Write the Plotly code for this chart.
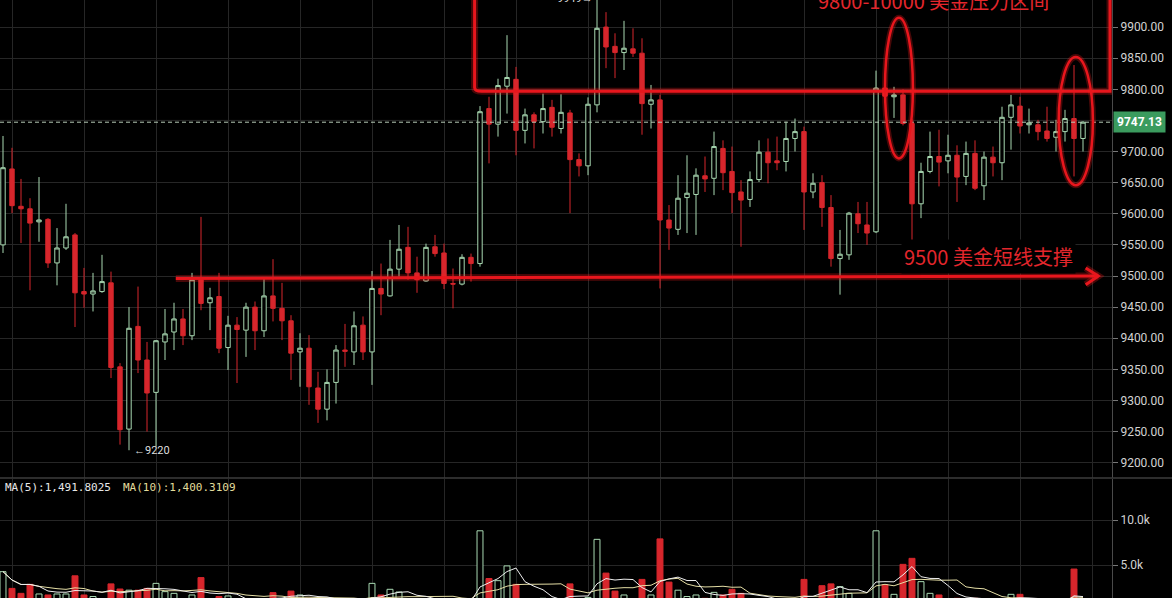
import plotly.graph_objects as go
import pandas as pd

# ---------------- data ----------------
opens = [9550, 9672, 9612, 9608, 9587, 9591, 9521, 9545, 9566, 9475,
         9471, 9475, 9489, 9354, 9254, 9419, 9365, 9313, 9394, 9410,
         9431, 9404, 9494, 9457, 9467, 9385, 9421, 9413, 9450, 9412,
         9468, 9448, 9428, 9378, 9384, 9320, 9286, 9329, 9381, 9378,
         9421, 9378, 9480, 9468, 9511, 9546, 9505, 9492, 9547, 9537,
         9488, 9487, 9530, 9520, 9769, 9744, 9805, 9816, 9734, 9759,
         9748, 9771, 9737, 9762, 9687, 9677, 9775, 9900, 9869, 9859,
         9865, 9858, 9776, 9783, 9590, 9575, 9626, 9631, 9661, 9657,
         9705, 9668, 9635, 9623, 9655, 9699, 9685, 9684, 9721, 9732,
         9635, 9650, 9610, 9528, 9534, 9600, 9582, 9571, 9802, 9788,
         9791, 9745, 9616, 9668, 9692, 9685, 9694, 9660, 9697, 9645,
         9691, 9682, 9755, 9773, 9743, 9743, 9733, 9723, 9732, 9753,
         9721]
highs = [9725, 9706, 9656, 9625, 9659, 9593, 9577, 9616, 9569, 9513,
         9505, 9534, 9507, 9360, 9450, 9483, 9394, 9397, 9447, 9457,
         9447, 9505, 9595, 9481, 9505, 9436, 9434, 9457, 9459, 9497,
         9527, 9489, 9437, 9408, 9405, 9346, 9350, 9389, 9423, 9443,
         9435, 9508, 9520, 9558, 9582, 9579, 9531, 9552, 9566, 9552,
         9512, 9535, 9536, 9773, 9788, 9817, 9887, 9836, 9769, 9763,
         9793, 9783, 9792, 9767, 9697, 9787, 9949, 9924, 9890, 9910,
         9898, 9882, 9807, 9791, 9614, 9662, 9694, 9673, 9692, 9732,
         9718, 9708, 9654, 9668, 9718, 9721, 9724, 9748, 9753, 9740,
         9665, 9662, 9630, 9574, 9603, 9619, 9619, 9830, 9812, 9804,
         9800, 9752, 9682, 9732, 9735, 9727, 9710, 9716, 9718, 9700,
         9708, 9772, 9791, 9788, 9769, 9751, 9772, 9751, 9767, 9839,
         9749]
lows = [9537, 9601, 9553, 9477, 9555, 9513, 9485, 9542, 9418, 9449,
        9443, 9473, 9336, 9229, 9220, 9344, 9250, 9226, 9365, 9381,
        9389, 9397, 9445, 9413, 9376, 9349, 9328, 9370, 9381, 9402,
        9427, 9397, 9333, 9322, 9293, 9264, 9268, 9295, 9354, 9357,
        9365, 9325, 9437, 9467, 9499, 9494, 9473, 9491, 9531, 9479,
        9448, 9485, 9491, 9515, 9681, 9724, 9761, 9694, 9713, 9705,
        9729, 9724, 9729, 9601, 9660, 9662, 9763, 9834, 9818, 9831,
        9852, 9727, 9737, 9480, 9542, 9566, 9569, 9566, 9635, 9630,
        9638, 9601, 9547, 9611, 9651, 9649, 9670, 9668, 9700, 9574,
        9625, 9579, 9515, 9470, 9526, 9569, 9550, 9569, 9782, 9754,
        9742, 9553, 9593, 9665, 9644, 9665, 9619, 9646, 9638, 9622,
        9660, 9654, 9703, 9729, 9729, 9718, 9716, 9700, 9716, 9660,
        9700]
closes = [9674, 9613, 9608, 9585, 9590, 9521, 9545, 9563, 9473, 9471,
          9476, 9491, 9353, 9253, 9416, 9365, 9312, 9396, 9407, 9431,
          9404, 9494, 9456, 9465, 9384, 9421, 9414, 9450, 9412, 9468,
          9448, 9428, 9376, 9384, 9322, 9286, 9329, 9381, 9379, 9420,
          9378, 9480, 9471, 9511, 9543, 9505, 9494, 9546, 9536, 9488,
          9487, 9530, 9520, 9764, 9744, 9806, 9819, 9734, 9759, 9748,
          9769, 9739, 9763, 9687, 9677, 9776, 9898, 9868, 9859, 9866,
          9858, 9777, 9783, 9590, 9577, 9625, 9633, 9662, 9656, 9708,
          9666, 9634, 9622, 9655, 9699, 9682, 9682, 9721, 9732, 9635,
          9649, 9610, 9528, 9535, 9601, 9584, 9569, 9802, 9789, 9791,
          9745, 9616, 9668, 9692, 9683, 9694, 9659, 9697, 9641, 9691,
          9682, 9755, 9775, 9741, 9746, 9732, 9721, 9732, 9753, 9721,
          9747.13]
volumes = [4260, 2400, 1850, 2850, 1780, 1670, 1780, 1780, 3800, 1670,
           1500, 1100, 2900, 2330, 2200, 2200, 2400, 2960, 2040, 1850,
           1200, 1670, 3600, 1100, 1500, 1560, 1000, 1100, 1200, 1200,
           1930, 1200, 2100, 1670, 1300, 1200, 1000, 1000, 800, 1000,
           900, 2960, 1670, 2300, 2000, 1200, 1000, 1100, 900, 1200,
           900, 1000, 900, 8800, 3500, 3260, 4900, 2850, 1200, 1000,
           1300, 1100, 1200, 2900, 1200, 1400, 7850, 4100, 2100, 1670,
           1200, 3400, 1670, 7900, 3100, 2200, 1500, 1670, 1300, 1960,
           1670, 2300, 1850, 1100, 1200, 1000, 900, 1100, 1000, 3400,
           1200, 2700, 2900, 2600, 1850, 1200, 1100, 8800, 2800, 1740,
           5070, 5740, 3150, 1850, 1670, 1200, 1300, 1200, 1300, 1100,
           1000, 1200, 1740, 1740, 1000, 900, 700, 800, 900, 4550,
           500]

# tick labels on the price axis (9750.00 is hidden under the last-price tag)
price_ticks = [9200, 9250, 9300, 9350, 9400, 9450, 9500, 9550,
               9600, 9650, 9700, 9800, 9850, 9900]
hidden_grid_price = 9750
vol_ticks = [5000, 10000]
vol_tick_labels = ["5.0k", "10.0k"]
last_price = 9747.13
low_label = "←9220"
high_label = "9949→"
ma5_label = "MA(5):1,491.8025"
ma10_label = "MA(10):1,400.3109"
resist_text = "9800-10000 美金压力区间"
support_text = "9500 美金短线支撑"

# ---------------- derived ----------------
idx = list(range(len(closes)))
ups = [c >= o for o, c in zip(opens, closes)]
vol_s = pd.Series(volumes, dtype=float)
ma5 = vol_s.rolling(5, min_periods=1).mean().tolist()
ma10 = vol_s.rolling(10, min_periods=1).mean().tolist()

RED = "#d7262c"
GREEN = "#a9d9b2"
BG = "#000000"
GRID = "#262626"
W, H = 1172, 598
PLOT_R = 1112 / W
PRICE_BOTTOM = (H - 478) / H
VOL_TOP = (H - 479) / H

fig = go.Figure()

fig.add_trace(go.Candlestick(
    x=idx, open=opens, high=highs, low=lows, close=closes,
    increasing=dict(line=dict(color=GREEN, width=1), fillcolor=BG),
    decreasing=dict(line=dict(color=RED, width=1), fillcolor=RED),
    whiskerwidth=0, xaxis="x", yaxis="y", showlegend=False,
    hoverinfo="skip"))

fig.add_trace(go.Bar(
    x=idx, y=volumes, width=0.66,
    marker=dict(color=[BG if u else RED for u in ups],
                line=dict(color=[GREEN if u else RED for u in ups], width=1)),
    xaxis="x2", yaxis="y2", showlegend=False, hoverinfo="skip"))

fig.add_trace(go.Scatter(x=idx, y=ma10, mode="lines",
                         line=dict(color="#e6dfa6", width=1),
                         xaxis="x2", yaxis="y2", showlegend=False, hoverinfo="skip"))
fig.add_trace(go.Scatter(x=idx, y=ma5, mode="lines",
                         line=dict(color="#eeeeee", width=1),
                         xaxis="x2", yaxis="y2", showlegend=False, hoverinfo="skip"))

grid_x = [1 + 8 * k for k in range(16)]
xr = [-0.333, -0.333 + 1112 / 9]

axis_font = dict(family="Roboto, DejaVu Sans, sans-serif", size=12, color="#d2d2d2")

fig.update_layout(
    width=W, height=H,
    margin=dict(l=0, r=0, t=0, b=0),
    paper_bgcolor=BG, plot_bgcolor=BG,
    showlegend=False,
    xaxis=dict(domain=[0, PLOT_R], range=xr, anchor="y",
               tickvals=grid_x, showticklabels=False, ticks="",
               showgrid=True, gridcolor=GRID, gridwidth=1, zeroline=False,
               rangeslider=dict(visible=False), fixedrange=True),
    xaxis2=dict(domain=[0, PLOT_R], range=xr, anchor="y2", matches="x",
                tickvals=grid_x, showticklabels=False, ticks="",
                showgrid=True, gridcolor=GRID, gridwidth=1, zeroline=False),
    yaxis=dict(domain=[PRICE_BOTTOM, 1], range=[9175.4, 9943.5], side="right",
               anchor="x", tickvals=price_ticks, tickformat=".2f",
               ticks="outside", ticklen=5, tickcolor="#777777",
               showline=True, linecolor="#4a4a4a", linewidth=1,
               showgrid=True, gridcolor=GRID, zeroline=False,
               tickfont=axis_font),
    yaxis2=dict(domain=[0, VOL_TOP], range=[1333, 14555], side="right",
                anchor="x2", tickvals=vol_ticks, ticktext=vol_tick_labels,
                ticks="outside", ticklen=5, tickcolor="#777777",
                showline=True, linecolor="#4a4a4a", linewidth=1,
                showgrid=True, gridcolor=GRID, zeroline=False,
                tickfont=axis_font),
)

shapes = []
# grid line under the last-price tag
shapes.append(dict(type="line", xref="paper", yref="y", x0=0, x1=PLOT_R,
                   y0=hidden_grid_price, y1=hidden_grid_price, layer="below",
                   line=dict(color=GRID, width=1)))
# panel separator
shapes.append(dict(type="line", xref="paper", yref="paper", x0=0, x1=1,
                   y0=PRICE_BOTTOM, y1=PRICE_BOTTOM,
                   line=dict(color="#3c3c3c", width=1.5)))
# last price dashed line
shapes.append(dict(type="line", xref="paper", yref="y", x0=0, x1=PLOT_R,
                   y0=last_price, y1=last_price,
                   line=dict(color="#b8ccb8", width=1, dash="4px,3px")))


def glow_path(path, width=3):
    shapes.append(dict(type="path", path=path, xref="x", yref="y",
                       line=dict(color="rgba(255,30,30,0.28)", width=width + 4)))
    shapes.append(dict(type="path", path=path, xref="x", yref="y",
                       line=dict(color="#e8161d", width=width)))


# resistance box (open at top)
glow_path("M 52.4,10100 L 52.4,9803 Q 52.4,9797 53.2,9797 L 123.0,9797 L 123.0,10100")
# support arrow
glow_path("M 19.2,9496 L 121.7,9500")
glow_path("M 120.3,9513 L 121.7,9500 L 120.3,9486")


def glow_ellipse(x0, x1, y0, y1):
    for col, wd in (("rgba(255,30,30,0.28)", 6), ("#e8161d", 2.5)):
        shapes.append(dict(type="circle", xref="x", yref="y",
                           x0=x0, x1=x1, y0=y0, y1=y1,
                           line=dict(color=col, width=wd)))


glow_ellipse(98.0, 101.1, 9689, 9915)
glow_ellipse(117.3, 121.1, 9646, 9852)

fig.update_layout(shapes=shapes)

annotations = [
    dict(xref="paper", yref="y", x=1113 / W, y=last_price, xanchor="left",
         yanchor="middle", text="<b>" + f"{last_price:.2f}" + "</b>",
         showarrow=False, bgcolor="#3b9b5e", borderpad=3,
         font=dict(family="Roboto, sans-serif", size=12, color="#ffffff")),
    dict(xref="x", yref="y", x=14.35, y=9220, xanchor="left", yanchor="middle",
         text=low_label, showarrow=False,
         font=dict(family="Roboto, sans-serif", size=11, color="#dedede")),
    dict(xref="paper", yref="paper", x=595 / W, y=(H + 2) / H, xanchor="right",
         yanchor="middle", text=high_label, showarrow=False,
         font=dict(family="Roboto, sans-serif", size=11, color="#dedede")),
    dict(xref="paper", yref="paper", x=3 / W, y=(H - 487) / H,
         xanchor="left", yanchor="middle", text=ma5_label, showarrow=False,
         font=dict(family="DejaVu Sans Mono, monospace", size=11, color="#e8e8e8")),
    dict(xref="paper", yref="paper", x=121 / W, y=(H - 487) / H,
         xanchor="left", yanchor="middle", text=ma10_label, showarrow=False,
         font=dict(family="DejaVu Sans Mono, monospace", size=11, color="#e2dc9c")),
    dict(xref="paper", yref="paper", x=933 / W, y=H / H,
         xanchor="center", yanchor="middle", text=resist_text, showarrow=False,
         font=dict(family="Noto Sans CJK SC, sans-serif", size=20, color="#e3262c")),
    dict(xref="paper", yref="paper", x=988.5 / W, y=(H - 256.5) / H,
         xanchor="center", yanchor="middle", text=support_text, showarrow=False,
         bgcolor=BG, borderpad=2,
         font=dict(family="Noto Sans CJK SC, sans-serif", size=20, color="#e3262c")),
]
fig.update_layout(annotations=annotations)

fig.write_html(
    "out.html",
    config={"displayModeBar": False, "staticPlot": True},
    post_script="document.body.style.margin='0';document.body.style.overflow='hidden';"
                "document.body.style.background='#000';",
)
